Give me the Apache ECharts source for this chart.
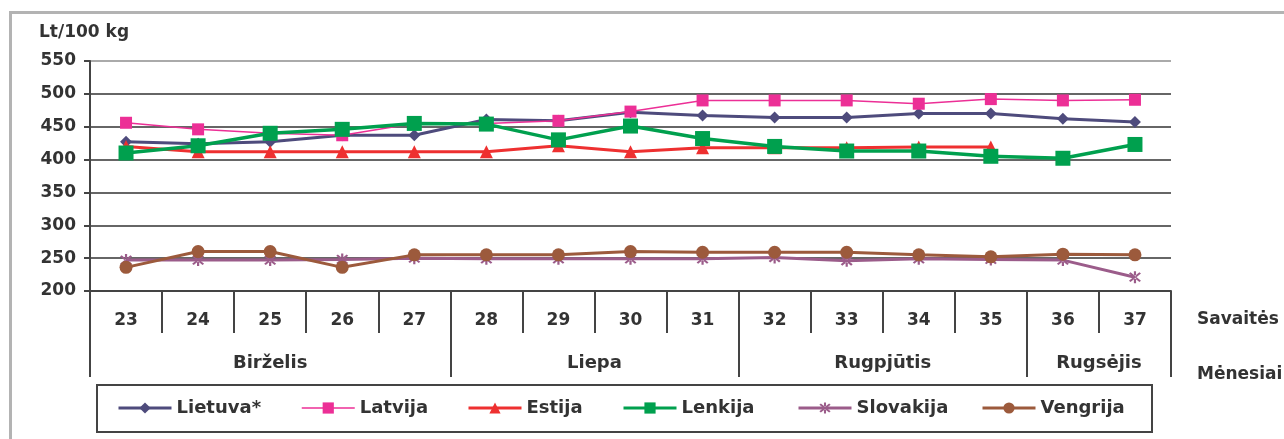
<!DOCTYPE html>
<html>
<head>
<meta charset="utf-8">
<script src="https://cdn.jsdelivr.net/npm/echarts@6/dist/echarts.min.js"></script>
<style>html,body{margin:0;padding:0;background:#fff;}#c{width:1284px;height:439px;}</style>
</head>
<body>
<div id="c"></div>
<script>
const weeks = ['23','24','25','26','27','28','29','30','31','32','33','34','35','36','37'];
const months = ['Birželis','Liepa','Rugpjūtis','Rugsėjis'];
const monthSpans = [5,4,4,2];
const yTicks = [200,250,300,350,400,450,500,550];

const lietuva   = [427,424,427,437,437,461,459,472,467,464,464,470,470,462,457];
const latvija   = [456,446,440,437,455,455,459,473,490,490,490,485,492,490,491];
const estija    = [420,412,412,412,412,412,421,412,418,418,418,419,419,null,null];
const lenkija   = [410,421,440,446,455,454,430,451,432,420,413,413,405,402,423];
const slovakija = [247,247,247,248,250,249,249,249,249,251,246,249,248,247,221];
const vengrija  = [236,260,260,236,255,255,255,260,259,259,259,255,252,256,255];

const FONT = 'DejaVu Sans';
const TXT = '#333333';

const monthEdges = [0];
monthSpans.forEach(s => monthEdges.push(monthEdges[monthEdges.length-1] + s));
const monthCenters = monthSpans.map((s,i) => monthEdges[i] + s/2);
const monthByCenter = {};
monthCenters.forEach((c,i) => monthByCenter[c] = months[i]);

const asterisk = 'path://M-0.9,-6L0.9,-6L0.9,6L-0.9,6Z M3.6,4.9L4.9,3.6L-3.6,-4.9L-4.9,-3.6Z M-4.9,3.6L-3.6,4.9L4.9,-3.6L3.6,-4.9Z';

const seriesDefs = [
  {name:'Lietuva*', data:lietuva, color:'#4E4B7C', symbol:'diamond', size:12, width:3},
  {name:'Latvija', data:latvija, color:'#EC2F96', symbol:'rect', size:12, width:1.5},
  {name:'Estija', data:estija, color:'#EE3030', symbol:'triangle', size:13, width:3},
  {name:'Lenkija', data:lenkija, color:'#00A04E', symbol:'rect', size:15, width:3.5},
  {name:'Slovakija', data:slovakija, color:'#9B5C8A', symbol:asterisk, size:12, width:3},
  {name:'Vengrija', data:vengrija, color:'#9C5A3C', symbol:'circle', size:13, width:3}
];
const legendLefts = [117, 301, 467, 622, 797, 981];

const chart = echarts.init(document.getElementById('c'), null, {renderer:'canvas'});
const option = {
  backgroundColor:'#ffffff',
  animation:false,
  grid:{left:90, right:113, top:61, bottom:148, containLabel:false},
  legend: seriesDefs.map((s,i) => ({
    data:[s.name], left:legendLefts[i], top:399, padding:0,
    itemWidth:53, itemHeight:14, selectedMode:false,
    lineStyle:{width: s.width >= 3 ? 3 : 1.5},
    textStyle:{fontFamily:FONT, fontWeight:'bold', fontSize:18, color:TXT}
  })),
  xAxis:[
    {
      type:'category', data:weeks, boundaryGap:true, position:'bottom',
      axisLine:{show:true, lineStyle:{color:'#444', width:2}},
      axisTick:{show:true, interval:0, length:42, lineStyle:{color:'#444', width:2}},
      axisLabel:{interval:0, margin:21, fontFamily:FONT, fontWeight:'bold', fontSize:17, color:TXT},
      splitLine:{show:false}
    },
    {
      type:'value', min:0, max:weeks.length, position:'bottom', offset:0,
      axisLine:{show:false},
      axisTick:{show:true, customValues:monthEdges, length:86, lineStyle:{color:'#444', width:2}},
      axisLabel:{show:true, customValues:monthCenters, margin:63,
        formatter:v => monthByCenter[v] || '',
        fontFamily:FONT, fontWeight:'bold', fontSize:18, color:TXT},
      splitLine:{show:false}
    }
  ],
  yAxis:{
    type:'value', min:yTicks[0], max:yTicks[yTicks.length-1], interval:50,
    axisLine:{show:true, lineStyle:{color:'#444', width:2}},
    axisTick:{show:true, length:6, lineStyle:{color:'#444', width:2}},
    axisLabel:{margin:14, fontFamily:FONT, fontWeight:'bold', fontSize:17, color:TXT},
    splitLine:{show:true, lineStyle:{color:['#666','#666','#666','#666','#666','#666','#666','#aaa'], width:2}}
  },
  series: seriesDefs.map(s => ({
    name:s.name, type:'line', xAxisIndex:0, data:s.data,
    symbol:s.symbol, symbolSize:s.size, showAllSymbol:true,
    connectNulls:false,
    lineStyle:{color:s.color, width:s.width},
    itemStyle:{color:s.color},
    emphasis:{disabled:true}
  })),
  graphic:[
    {type:'rect', z:-10, shape:{x:10.5, y:12.5, width:1400, height:500}, style:{fill:null, stroke:'#b3b3b3', lineWidth:3}},
    {type:'rect', z:-5, shape:{x:97, y:385, width:1055, height:47}, style:{fill:'#fff', stroke:'#444', lineWidth:2}},
    {type:'text', left:39, top:24, style:{text:'Lt/100 kg', font:'bold 17px "DejaVu Sans"', fill:TXT}},
    {type:'text', left:1197, top:311, style:{text:'Savaitės', font:'bold 17px "DejaVu Sans"', fill:TXT}},
    {type:'text', left:1197, top:366, style:{text:'Mėnesiai', font:'bold 17px "DejaVu Sans"', fill:TXT}}
  ]
};
chart.setOption(option);
</script>
</body>
</html>
